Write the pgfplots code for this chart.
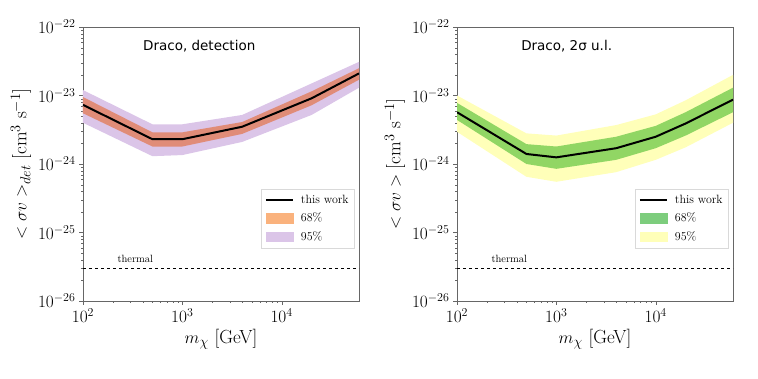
\documentclass[border=0pt]{standalone}
\usepackage{fontspec}
\usepackage{pgfplots}
\usepackage{pgfplotstable}
\pgfplotsset{compat=1.18}
\usepgfplotslibrary{fillbetween}
\newfontfamily\titlefont{DejaVu Sans}

\definecolor{lav95}{RGB}{219,197,232}
\definecolor{salmon68}{RGB}{224,140,120}
\definecolor{orange68}{RGB}{250,178,125}
\definecolor{yel95}{RGB}{255,255,185}
\definecolor{green68}{RGB}{145,214,100}
\definecolor{green68leg}{RGB}{125,205,125}

% x, central line, 68% band, 95% band
\pgfplotstableread{
x     c        lo68     hi68     lo95     hi95
100   7.3e-24  5.5e-24  9.5e-24  4.0e-24  1.2e-23
500   2.3e-24  1.8e-24  2.9e-24  1.3e-24  3.8e-24
1000  2.3e-24  1.8e-24  2.9e-24  1.35e-24 3.8e-24
4000  3.5e-24  2.75e-24 4.1e-24  2.1e-24  5.2e-24
20000 9.1e-24  7.2e-24  1.15e-23 5.2e-24  1.5e-23
60000 2.1e-23  1.7e-23  2.5e-23  1.3e-23  3.1e-23
}\detdata

\pgfplotstableread{
x     c        lo68     hi68     lo95     hi95
100   5.7e-24  4.4e-24  7.8e-24  2.95e-24 1.0e-23
500   1.4e-24  1.0e-24  1.95e-24 6.5e-25  2.8e-24
1000  1.25e-24 8.5e-25  1.8e-24  5.5e-25  2.6e-24
4000  1.7e-24  1.15e-24 2.5e-24  7.6e-25  3.7e-24
10000 2.5e-24  1.7e-24  3.6e-24  1.15e-24 5.3e-24
20000 3.9e-24  2.6e-24  5.7e-24  1.75e-24 8.5e-24
60000 8.7e-24  5.7e-24  1.3e-23  4.0e-24  2.0e-23
}\uldata

\begin{document}
\begin{tikzpicture}
\begin{axis}[name=left,
    scale only axis, width=276pt, height=274pt,
    xmode=log, ymode=log,
    xmin=100, xmax=60000, ymin=1e-26, ymax=1e-22,
    xtick={100,1000,10000},
    ytick={1e-26,1e-25,1e-24,1e-23,1e-22},
    tick align=outside, xtick pos=bottom, ytick pos=left,
    axis line style={black!60}, tick style={black!60},
    major tick length=4pt, minor tick length=2pt,
    ticklabel style={font=\fontsize{17.5}{18}\selectfont},
    label style={font=\fontsize{19}{22}\selectfont},
    xlabel={$m_\chi$ [GeV]},
    ylabel={$<\sigma v>_{det}$ [cm$^3$ s$^{-1}$]},
    legend style={at={(0.985,0.409)}, anchor=north east, draw=black!15,
      fill=white, inner xsep=4pt, inner ysep=4pt, row sep=4pt, column sep=5pt,
      font=\fontsize{12}{14}\selectfont},
    legend cell align=left]
\addplot[name path=u95, draw=none, forget plot] table[x=x, y=hi95] {\detdata};
\addplot[name path=l95, draw=none, forget plot] table[x=x, y=lo95] {\detdata};
\addplot[name path=u68, draw=none, forget plot] table[x=x, y=hi68] {\detdata};
\addplot[name path=l68, draw=none, forget plot] table[x=x, y=lo68] {\detdata};
\addplot[lav95, forget plot] fill between[of=u95 and l95];
\addplot[salmon68, forget plot] fill between[of=u68 and l68];
\addplot[black, line width=2pt, forget plot] table[x=x, y=c] {\detdata};
\addplot[black, dashed, thin, forget plot] coordinates {(100,3e-26) (60000,3e-26)};
\addlegendimage{legend image code/.code={\draw[black, line width=2pt] (0pt,0pt) -- (27pt,0pt);}}
\addlegendentry{this work}
\addlegendimage{legend image code/.code={\fill[orange68] (0pt,-4.5pt) rectangle (27pt,5pt);}}
\addlegendentry{68\%}
\addlegendimage{legend image code/.code={\fill[lav95] (0pt,-4.5pt) rectangle (27pt,5pt);}}
\addlegendentry{95\%}
\node[anchor=base west, font=\fontsize{10.5}{12}\selectfont] at (axis cs:205,3.6e-26) {thermal};
\node[anchor=west, font=\titlefont\fontsize{13.5}{16}\selectfont] at (rel axis cs:0.205,0.93) {Draco, detection};
\end{axis}

\begin{axis}[name=right, at={(374pt,0pt)},
    scale only axis, width=276pt, height=274pt,
    xmode=log, ymode=log,
    xmin=100, xmax=60000, ymin=1e-26, ymax=1e-22,
    xtick={100,1000,10000},
    ytick={1e-26,1e-25,1e-24,1e-23,1e-22},
    tick align=outside, xtick pos=bottom, ytick pos=left,
    axis line style={black!60}, tick style={black!60},
    major tick length=4pt, minor tick length=2pt,
    ticklabel style={font=\fontsize{17.5}{18}\selectfont},
    label style={font=\fontsize{19}{22}\selectfont},
    xlabel={$m_\chi$ [GeV]},
    ylabel={$<\sigma v>$ [cm$^3$ s$^{-1}$]},
    legend style={at={(0.985,0.409)}, anchor=north east, draw=black!15,
      fill=white, inner xsep=4pt, inner ysep=4pt, row sep=4pt, column sep=5pt,
      font=\fontsize{12}{14}\selectfont},
    legend cell align=left]
\addplot[name path=u95, draw=none, forget plot] table[x=x, y=hi95] {\uldata};
\addplot[name path=l95, draw=none, forget plot] table[x=x, y=lo95] {\uldata};
\addplot[name path=u68, draw=none, forget plot] table[x=x, y=hi68] {\uldata};
\addplot[name path=l68, draw=none, forget plot] table[x=x, y=lo68] {\uldata};
\addplot[yel95, forget plot] fill between[of=u95 and l95];
\addplot[green68, forget plot] fill between[of=u68 and l68];
\addplot[black, line width=2pt, forget plot] table[x=x, y=c] {\uldata};
\addplot[black, dashed, thin, forget plot] coordinates {(100,3e-26) (60000,3e-26)};
\addlegendimage{legend image code/.code={\draw[black, line width=2pt] (0pt,0pt) -- (27pt,0pt);}}
\addlegendentry{this work}
\addlegendimage{legend image code/.code={\fill[green68leg] (0pt,-4.5pt) rectangle (27pt,5pt);}}
\addlegendentry{68\%}
\addlegendimage{legend image code/.code={\fill[yel95] (0pt,-4.5pt) rectangle (27pt,5pt);}}
\addlegendentry{95\%}
\node[anchor=base west, font=\fontsize{10.5}{12}\selectfont] at (axis cs:205,3.6e-26) {thermal};
\node[anchor=west, font=\titlefont\fontsize{13.5}{16}\selectfont] at (rel axis cs:0.22,0.93) {Draco, 2σ u.l.};
\end{axis}

\pgfresetboundingbox
\path ([shift={(-83pt,-78pt)}]left.south west) rectangle ([shift={(25pt,27pt)}]right.north east);
\end{tikzpicture}
\end{document}
